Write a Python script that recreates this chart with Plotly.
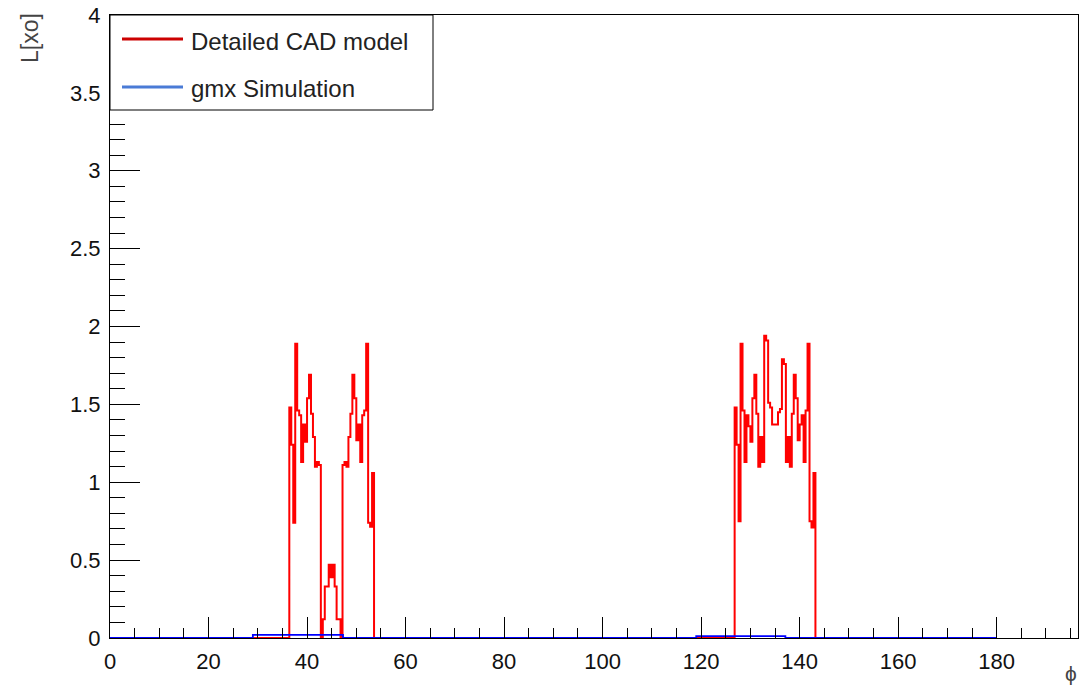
import plotly.graph_objects as go

# ---------------- data ----------------
BIN_WIDTH = 0.4            # degrees per histogram bin
HIST_RANGE = (0.0, 180.0)  # histogram range in phi

# Detailed CAD model: first structure (starts at phi = 36.4)
cad_start_1 = 36.4
cad_values_1 = [
    1.48, 1.24, 0.74, 1.89, 1.46, 1.43, 1.13, 1.37, 1.26, 1.54, 1.69, 1.44, 1.29, 1.10, 1.13, 1.11,
    0.0,
    0.12, 0.33, 0.33, 0.47, 0.39, 0.47, 0.33, 0.12, 0.12,
    0.0,
    1.11, 1.13, 1.10, 1.29, 1.44, 1.69, 1.54, 1.27, 1.37, 1.13, 1.43, 1.46, 1.89, 0.74, 0.715, 1.06,
]

# Detailed CAD model: second structure (starts at phi = 126.8)
cad_start_2 = 126.8
cad_values_2 = [
    1.48, 1.24, 0.75, 1.89, 1.46, 1.13, 1.43, 1.36, 1.26, 1.54, 1.69, 1.44, 1.10, 1.29, 1.13,
    1.94, 1.91, 1.51, 1.48, 1.37, 1.37, 1.37, 1.45, 1.47, 1.79, 1.76, 1.13, 1.29, 1.10, 1.44,
    1.69, 1.54, 1.27, 1.37, 1.43, 1.13, 1.46, 1.89, 0.75, 0.71, 1.06,
]

# gmx Simulation (coarse steps)
gmx_edges = [0.0, 29.0, 47.3, 119.0, 137.1, 180.0]
gmx_values = [0.0, 0.02, 0.0, 0.012, 0.0]

x_tick_values = [0, 20, 40, 60, 80, 100, 120, 140, 160, 180]
y_tick_values = [0, 0.5, 1, 1.5, 2, 2.5, 3, 3.5, 4]

legend_labels = ["Detailed CAD model", "gmx Simulation"]

# ---------------- build step outlines ----------------
def hist_outline(blocks, lo, hi, width):
    xs, ys = [lo], [0.0]
    for start, vals in blocks:
        for i, v in enumerate(vals):
            xs.append(start + i * width)
            ys.append(v)
        xs.append(start + len(vals) * width)
        ys.append(0.0)
    xs.append(hi)
    ys.append(0.0)
    return xs, ys

cad_x, cad_y = hist_outline([(cad_start_1, cad_values_1), (cad_start_2, cad_values_2)],
                            HIST_RANGE[0], HIST_RANGE[1], BIN_WIDTH)
gmx_x = list(gmx_edges)
gmx_y = list(gmx_values) + [gmx_values[-1]]

FONT = "Liberation Sans, Arial, Helvetica, sans-serif"

fig = go.Figure()
fig.add_trace(go.Scatter(x=cad_x, y=cad_y, mode="lines", line_shape="hv",
                         line=dict(color="#ff0000", width=2),
                         name=legend_labels[0], showlegend=False, hoverinfo="skip"))
fig.add_trace(go.Scatter(x=gmx_x, y=gmx_y, mode="lines", line_shape="hv",
                         line=dict(color="#0000ff", width=1.8),
                         name=legend_labels[1], showlegend=False, hoverinfo="skip"))

# ---------------- layout ----------------
L, R, T, B = 110, 3, 15, 50
W, H = 1081, 688
pw, ph = W - L - R, H - T - B

def px(xp):
    return (xp - L) / pw

def py(yp):
    return 1 - (yp - T) / ph

shapes = [
    # legend box
    dict(type="rect", xref="paper", yref="paper", x0=px(110), x1=px(433), y0=py(110), y1=py(15),
         line=dict(color="black", width=1), fillcolor="white", layer="above"),
    dict(type="line", xref="paper", yref="paper", x0=px(122), x1=px(183), y0=py(39), y1=py(39),
         line=dict(color="#cc0000", width=3), layer="above"),
    dict(type="line", xref="paper", yref="paper", x0=px(122), x1=px(183), y0=py(87), y1=py(87),
         line=dict(color="#4a7bd6", width=3), layer="above"),
]

annotations = [
    dict(text=legend_labels[0], xref="paper", yref="paper", x=px(189), y=py(41),
         xanchor="left", yanchor="middle", showarrow=False,
         font=dict(family=FONT, size=24, color="#222222")),
    dict(text=legend_labels[1], xref="paper", yref="paper", x=px(189), y=py(88),
         xanchor="left", yanchor="middle", showarrow=False,
         font=dict(family=FONT, size=24, color="#222222")),
    dict(text="L[xo]", xref="paper", yref="paper", x=px(30), y=py(11),
         xanchor="center", yanchor="top", textangle=-90, showarrow=False,
         font=dict(family=FONT, size=23, color="#444444")),
    dict(text="ϕ", xref="paper", yref="paper", x=px(1071), y=py(673),
         xanchor="center", yanchor="middle", showarrow=False,
         font=dict(family=FONT, size=21, color="#444444")),
]

fig.update_layout(
    width=W, height=H,
    margin=dict(l=L, r=R, t=T, b=B),
    paper_bgcolor="white", plot_bgcolor="white",
    font=dict(family=FONT, size=22, color="black"),
    shapes=shapes, annotations=annotations,
    showlegend=False,
)
fig.update_xaxes(
    range=[0, 196.5], tickvals=x_tick_values, ticks="inside", ticklen=21, tickwidth=1,
    tickcolor="black", showline=True, linecolor="black", linewidth=1, mirror=True,
    showgrid=False, zeroline=False, ticklabelstandoff=4,
    tickfont=dict(family=FONT, size=22, color="#111111"),
    minor=dict(dtick=5, tick0=0, ticks="inside", ticklen=10, tickcolor="black", showgrid=False),
)
fig.update_yaxes(
    range=[0, 4], tickvals=y_tick_values, ticks="inside", ticklen=30, tickwidth=1,
    tickcolor="black", showline=True, linecolor="black", linewidth=1, mirror=True,
    showgrid=False, zeroline=False, ticklabelstandoff=4,
    tickfont=dict(family=FONT, size=22, color="#111111"),
    minor=dict(dtick=0.1, tick0=0, ticks="inside", ticklen=15, tickcolor="black", showgrid=False),
)

fig.write_html("out.html")
